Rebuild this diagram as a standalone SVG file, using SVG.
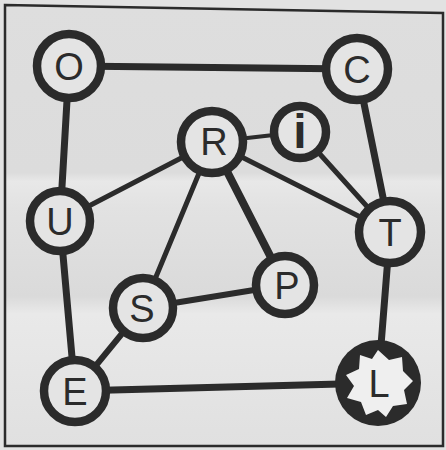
<svg xmlns="http://www.w3.org/2000/svg" width="446" height="450" viewBox="0 0 446 450">
<defs>
<linearGradient id="bg" x1="0" y1="0" x2="0" y2="1">
<stop offset="0" stop-color="#dedede"/>
<stop offset="0.38" stop-color="#dcdcdc"/>
<stop offset="0.40" stop-color="#e8e8e8"/>
<stop offset="0.46" stop-color="#e2e2e2"/>
<stop offset="0.66" stop-color="#dadada"/>
<stop offset="0.70" stop-color="#e9e9e9"/>
<stop offset="1" stop-color="#e0e0e0"/>
</linearGradient>
<style>
.e{stroke:#2b2b2b;stroke-linecap:round;fill:none}
.n{fill:#e4e4e4;stroke:#2b2b2b;stroke-width:8.5}
.t{font-family:"Liberation Sans",Arial,sans-serif;font-size:38px;fill:#2b2b2b;text-anchor:middle}
</style>
</defs>
<rect x="0" y="0" width="446" height="450" fill="#e2e2e2"/>
<polygon points="5,5 443,13 443,446 5,446" fill="url(#bg)" stroke="#2b2b2b" stroke-width="2.5"/>
<g id="connectors">
<line class="e" x1="69" y1="66" x2="357" y2="69" stroke-width="7"/>
<line class="e" x1="69" y1="66" x2="60" y2="221" stroke-width="7"/>
<line class="e" x1="60" y1="221" x2="75" y2="391" stroke-width="7"/>
<line class="e" x1="75" y1="391" x2="378" y2="383" stroke-width="7"/>
<line class="e" x1="390" y1="232" x2="378" y2="383" stroke-width="7"/>
<line class="e" x1="357" y1="69" x2="390" y2="232" stroke-width="7"/>
<line class="e" x1="212" y1="142" x2="285" y2="285" stroke-width="8"/>
<line class="e" x1="143" y1="308" x2="285" y2="285" stroke-width="6"/>
<line class="e" x1="60" y1="221" x2="212" y2="142" stroke-width="5"/>
<line class="e" x1="212" y1="142" x2="143" y2="308" stroke-width="5"/>
<line class="e" x1="212" y1="142" x2="390" y2="232" stroke-width="5"/>
<line class="e" x1="300" y1="132" x2="390" y2="232" stroke-width="5"/>
<line class="e" x1="212" y1="142" x2="300" y2="132" stroke-width="4"/>
<line class="e" x1="143" y1="308" x2="75" y2="391" stroke-width="6"/>
</g>
<g id="node-O"><circle class="n" cx="69" cy="66" r="32"/><text class="t" x="69" y="80">O</text></g>
<g id="node-C"><circle class="n" cx="357" cy="69" r="31"/><text class="t" x="357" y="83">C</text></g>
<g id="node-R"><circle class="n" cx="212" cy="142" r="31"/><text class="t" x="214" y="155">R</text></g>
<g id="node-i"><circle class="n" cx="300" cy="132" r="26" stroke-width="10"/><text class="t" x="300" y="148" style="font-weight:bold;font-size:48px">i</text></g>
<g id="node-U"><circle class="n" cx="60" cy="221" r="30"/><text class="t" x="60" y="235">U</text></g>
<g id="node-T"><circle class="n" cx="390" cy="232" r="31"/><text class="t" x="390" y="246">T</text></g>
<g id="node-P"><circle class="n" cx="285" cy="285" r="29"/><text class="t" x="287" y="299">P</text></g>
<g id="node-S"><circle class="n" cx="143" cy="308" r="30"/><text class="t" x="142" y="322">S</text></g>
<g id="node-E"><circle class="n" cx="75" cy="391" r="31"/><text class="t" x="75" y="405">E</text></g>
<g id="node-L">
<circle cx="378" cy="383" r="43" fill="#2b2b2b"/>
<polygon fill="#efefef" points="378,350 389,360 402,357 403,371 413,381 404,390 407,404 393,406 386,417 378,410 366,415 361,402 347,398 354,386 346,375 359,369 360,355 372,359"/>
<text class="t" x="379" y="397">L</text>
</g>
</svg>
